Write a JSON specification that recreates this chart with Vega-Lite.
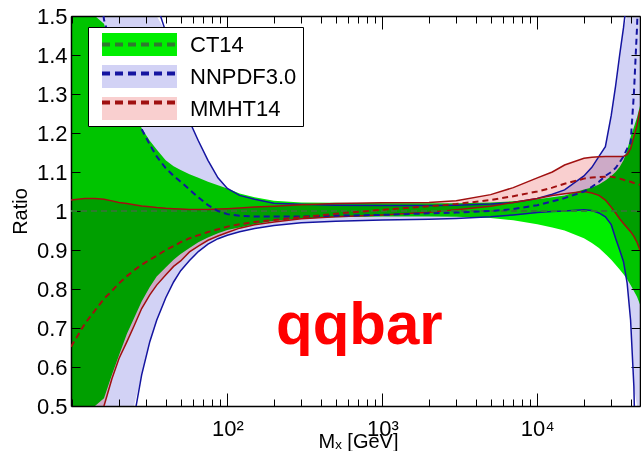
{
  "$schema": "https://vega.github.io/schema/vega-lite/v6.json",
  "width": 569,
  "height": 390,
  "autosize": {"type": "none"},
  "padding": {"left": 71, "top": 16, "right": 1, "bottom": 45},
  "background": "white",
  "config": {
    "view": {"stroke": null},
    "font": "Liberation Sans",
    "axis": {"grid": false, "domainColor": "black", "domainWidth": 1.5, "tickColor": "black", "tickWidth": 1, "labelColor": "black", "labelFont": "Liberation Sans", "labelFontSize": 22, "titleFont": "Liberation Sans", "titleFontWeight": "normal", "titleColor": "black"}
  },
  "datasets": {
    "bands": [
      {"s":"CT14","M":9.8,"lo":0.05,"hi":2.0,"c":1},
      {"s":"CT14","M":12,"lo":0.28,"hi":1.78,"c":1},
      {"s":"CT14","M":14,"lo":0.43,"hi":1.6,"c":1},
      {"s":"CT14","M":16,"lo":0.52,"hi":1.48,"c":1},
      {"s":"CT14","M":18,"lo":0.58,"hi":1.41,"c":1},
      {"s":"CT14","M":20,"lo":0.63,"hi":1.35,"c":1},
      {"s":"CT14","M":22.5,"lo":0.685,"hi":1.3,"c":1},
      {"s":"CT14","M":25,"lo":0.725,"hi":1.255,"c":1},
      {"s":"CT14","M":28,"lo":0.768,"hi":1.212,"c":1},
      {"s":"CT14","M":31.6,"lo":0.805,"hi":1.18,"c":1},
      {"s":"CT14","M":35,"lo":0.832,"hi":1.158,"c":1},
      {"s":"CT14","M":40,"lo":0.855,"hi":1.13,"c":1},
      {"s":"CT14","M":45,"lo":0.875,"hi":1.115,"c":1},
      {"s":"CT14","M":50,"lo":0.89,"hi":1.105,"c":1},
      {"s":"CT14","M":57,"lo":0.905,"hi":1.094,"c":1},
      {"s":"CT14","M":65,"lo":0.92,"hi":1.085,"c":1},
      {"s":"CT14","M":75,"lo":0.932,"hi":1.075,"c":1},
      {"s":"CT14","M":87,"lo":0.943,"hi":1.066,"c":1},
      {"s":"CT14","M":100,"lo":0.951,"hi":1.058,"c":1},
      {"s":"CT14","M":120,"lo":0.958,"hi":1.045,"c":1},
      {"s":"CT14","M":150,"lo":0.966,"hi":1.035,"c":1},
      {"s":"CT14","M":200,"lo":0.975,"hi":1.026,"c":1},
      {"s":"CT14","M":300,"lo":0.98,"hi":1.022,"c":1},
      {"s":"CT14","M":500,"lo":0.984,"hi":1.021,"c":1},
      {"s":"CT14","M":1000,"lo":0.986,"hi":1.02,"c":1},
      {"s":"CT14","M":2000,"lo":0.986,"hi":1.02,"c":1},
      {"s":"CT14","M":3000,"lo":0.985,"hi":1.02,"c":1},
      {"s":"CT14","M":5000,"lo":0.982,"hi":1.022,"c":1},
      {"s":"CT14","M":7000,"lo":0.976,"hi":1.025,"c":1},
      {"s":"CT14","M":10000,"lo":0.966,"hi":1.03,"c":1},
      {"s":"CT14","M":12500,"lo":0.958,"hi":1.035,"c":1},
      {"s":"CT14","M":15000,"lo":0.95,"hi":1.04,"c":1},
      {"s":"CT14","M":20000,"lo":0.93,"hi":1.055,"c":1},
      {"s":"CT14","M":22500,"lo":0.918,"hi":1.06,"c":1},
      {"s":"CT14","M":25000,"lo":0.905,"hi":1.068,"c":1},
      {"s":"CT14","M":27500,"lo":0.89,"hi":1.078,"c":1},
      {"s":"CT14","M":30000,"lo":0.875,"hi":1.09,"c":1},
      {"s":"CT14","M":32000,"lo":0.862,"hi":1.1,"c":1},
      {"s":"CT14","M":34000,"lo":0.85,"hi":1.113,"c":1},
      {"s":"CT14","M":36000,"lo":0.838,"hi":1.13,"c":1},
      {"s":"CT14","M":38000,"lo":0.825,"hi":1.155,"c":1},
      {"s":"CT14","M":40000,"lo":0.81,"hi":1.19,"c":1},
      {"s":"CT14","M":42000,"lo":0.795,"hi":1.215,"c":1},
      {"s":"CT14","M":44000,"lo":0.78,"hi":1.24,"c":1},
      {"s":"CT14","M":46000,"lo":0.76,"hi":1.27,"c":1},

      {"s":"NNPDF3.0","M":9.8,"lo":-1.2,"hi":3.6,"c":2.6},
      {"s":"NNPDF3.0","M":12,"lo":-0.6,"hi":3.0,"c":2.0},
      {"s":"NNPDF3.0","M":14,"lo":-0.2,"hi":2.65,"c":1.7},
      {"s":"NNPDF3.0","M":16,"lo":0.05,"hi":2.4,"c":1.49},
      {"s":"NNPDF3.0","M":18,"lo":0.18,"hi":2.2,"c":1.42},
      {"s":"NNPDF3.0","M":20,"lo":0.3,"hi":2.05,"c":1.36},
      {"s":"NNPDF3.0","M":22.5,"lo":0.39,"hi":1.9,"c":1.3},
      {"s":"NNPDF3.0","M":25,"lo":0.47,"hi":1.8,"c":1.255},
      {"s":"NNPDF3.0","M":28,"lo":0.58,"hi":1.7,"c":1.21},
      {"s":"NNPDF3.0","M":31.6,"lo":0.665,"hi":1.6,"c":1.17},
      {"s":"NNPDF3.0","M":35,"lo":0.72,"hi":1.53,"c":1.14},
      {"s":"NNPDF3.0","M":40,"lo":0.777,"hi":1.46,"c":1.11},
      {"s":"NNPDF3.0","M":45,"lo":0.818,"hi":1.38,"c":1.09},
      {"s":"NNPDF3.0","M":50,"lo":0.847,"hi":1.31,"c":1.075},
      {"s":"NNPDF3.0","M":57,"lo":0.873,"hi":1.23,"c":1.055},
      {"s":"NNPDF3.0","M":65,"lo":0.896,"hi":1.18,"c":1.035},
      {"s":"NNPDF3.0","M":75,"lo":0.915,"hi":1.13,"c":1.015},
      {"s":"NNPDF3.0","M":87,"lo":0.929,"hi":1.085,"c":1.0},
      {"s":"NNPDF3.0","M":100,"lo":0.938,"hi":1.058,"c":0.992},
      {"s":"NNPDF3.0","M":120,"lo":0.947,"hi":1.04,"c":0.988},
      {"s":"NNPDF3.0","M":150,"lo":0.955,"hi":1.03,"c":0.986},
      {"s":"NNPDF3.0","M":200,"lo":0.963,"hi":1.02,"c":0.986},
      {"s":"NNPDF3.0","M":300,"lo":0.97,"hi":1.017,"c":0.986},
      {"s":"NNPDF3.0","M":500,"lo":0.974,"hi":1.015,"c":0.988},
      {"s":"NNPDF3.0","M":1000,"lo":0.977,"hi":1.014,"c":0.99},
      {"s":"NNPDF3.0","M":2000,"lo":0.979,"hi":1.014,"c":0.994},
      {"s":"NNPDF3.0","M":3000,"lo":0.981,"hi":1.015,"c":0.996},
      {"s":"NNPDF3.0","M":5000,"lo":0.985,"hi":1.018,"c":1.0},
      {"s":"NNPDF3.0","M":7000,"lo":0.99,"hi":1.022,"c":1.005},
      {"s":"NNPDF3.0","M":10000,"lo":0.996,"hi":1.032,"c":1.015},
      {"s":"NNPDF3.0","M":12500,"lo":0.999,"hi":1.043,"c":1.025},
      {"s":"NNPDF3.0","M":15000,"lo":1.0,"hi":1.054,"c":1.033},
      {"s":"NNPDF3.0","M":20000,"lo":1.003,"hi":1.09,"c":1.05},
      {"s":"NNPDF3.0","M":22500,"lo":1.001,"hi":1.112,"c":1.062},
      {"s":"NNPDF3.0","M":25000,"lo":0.995,"hi":1.14,"c":1.075},
      {"s":"NNPDF3.0","M":27500,"lo":0.985,"hi":1.165,"c":1.09},
      {"s":"NNPDF3.0","M":30000,"lo":0.965,"hi":1.245,"c":1.1},
      {"s":"NNPDF3.0","M":32000,"lo":0.93,"hi":1.32,"c":1.11},
      {"s":"NNPDF3.0","M":34000,"lo":0.9,"hi":1.4,"c":1.125},
      {"s":"NNPDF3.0","M":36000,"lo":0.87,"hi":1.47,"c":1.14},
      {"s":"NNPDF3.0","M":38000,"lo":0.815,"hi":1.55,"c":1.16},
      {"s":"NNPDF3.0","M":40000,"lo":0.72,"hi":1.62,"c":1.175},
      {"s":"NNPDF3.0","M":42000,"lo":0.55,"hi":1.7,"c":1.3},
      {"s":"NNPDF3.0","M":44000,"lo":0.2,"hi":1.8,"c":1.47},
      {"s":"NNPDF3.0","M":46000,"lo":-0.3,"hi":1.9,"c":1.7},

      {"s":"MMHT14","M":9.8,"lo":0.14,"hi":1.028,"c":0.652},
      {"s":"MMHT14","M":12,"lo":0.3,"hi":1.032,"c":0.71},
      {"s":"MMHT14","M":14,"lo":0.42,"hi":1.032,"c":0.745},
      {"s":"MMHT14","M":16,"lo":0.5,"hi":1.03,"c":0.775},
      {"s":"MMHT14","M":18,"lo":0.57,"hi":1.026,"c":0.795},
      {"s":"MMHT14","M":20,"lo":0.622,"hi":1.022,"c":0.815},
      {"s":"MMHT14","M":22.5,"lo":0.665,"hi":1.019,"c":0.833},
      {"s":"MMHT14","M":25,"lo":0.705,"hi":1.016,"c":0.848},
      {"s":"MMHT14","M":28,"lo":0.75,"hi":1.013,"c":0.862},
      {"s":"MMHT14","M":31.6,"lo":0.785,"hi":1.011,"c":0.875},
      {"s":"MMHT14","M":35,"lo":0.81,"hi":1.009,"c":0.885},
      {"s":"MMHT14","M":40,"lo":0.836,"hi":1.007,"c":0.9},
      {"s":"MMHT14","M":45,"lo":0.858,"hi":1.006,"c":0.91},
      {"s":"MMHT14","M":50,"lo":0.872,"hi":1.005,"c":0.92},
      {"s":"MMHT14","M":57,"lo":0.895,"hi":1.004,"c":0.93},
      {"s":"MMHT14","M":65,"lo":0.91,"hi":1.004,"c":0.938},
      {"s":"MMHT14","M":75,"lo":0.925,"hi":1.004,"c":0.946},
      {"s":"MMHT14","M":87,"lo":0.936,"hi":1.005,"c":0.953},
      {"s":"MMHT14","M":100,"lo":0.945,"hi":1.006,"c":0.96},
      {"s":"MMHT14","M":120,"lo":0.956,"hi":1.008,"c":0.966},
      {"s":"MMHT14","M":150,"lo":0.965,"hi":1.01,"c":0.972},
      {"s":"MMHT14","M":200,"lo":0.972,"hi":1.012,"c":0.977},
      {"s":"MMHT14","M":300,"lo":0.98,"hi":1.016,"c":0.984},
      {"s":"MMHT14","M":500,"lo":0.985,"hi":1.019,"c":0.993},
      {"s":"MMHT14","M":1000,"lo":0.99,"hi":1.021,"c":1.003},
      {"s":"MMHT14","M":2000,"lo":0.997,"hi":1.022,"c":1.012},
      {"s":"MMHT14","M":3000,"lo":1.003,"hi":1.026,"c":1.018},
      {"s":"MMHT14","M":5000,"lo":1.012,"hi":1.042,"c":1.028},
      {"s":"MMHT14","M":7000,"lo":1.022,"hi":1.06,"c":1.038},
      {"s":"MMHT14","M":10000,"lo":1.032,"hi":1.085,"c":1.05},
      {"s":"MMHT14","M":12500,"lo":1.04,"hi":1.1,"c":1.06},
      {"s":"MMHT14","M":15000,"lo":1.044,"hi":1.118,"c":1.07},
      {"s":"MMHT14","M":20000,"lo":1.05,"hi":1.135,"c":1.083},
      {"s":"MMHT14","M":22500,"lo":1.046,"hi":1.138,"c":1.086},
      {"s":"MMHT14","M":25000,"lo":1.04,"hi":1.139,"c":1.087},
      {"s":"MMHT14","M":27500,"lo":1.028,"hi":1.14,"c":1.088},
      {"s":"MMHT14","M":30000,"lo":1.01,"hi":1.14,"c":1.088},
      {"s":"MMHT14","M":32000,"lo":0.995,"hi":1.14,"c":1.086},
      {"s":"MMHT14","M":34000,"lo":0.98,"hi":1.14,"c":1.083},
      {"s":"MMHT14","M":36000,"lo":0.968,"hi":1.14,"c":1.08},
      {"s":"MMHT14","M":38000,"lo":0.957,"hi":1.145,"c":1.077},
      {"s":"MMHT14","M":40000,"lo":0.947,"hi":1.16,"c":1.075},
      {"s":"MMHT14","M":42000,"lo":0.935,"hi":1.19,"c":1.072},
      {"s":"MMHT14","M":44000,"lo":0.92,"hi":1.22,"c":1.07},
      {"s":"MMHT14","M":46000,"lo":0.9,"hi":1.26,"c":1.067}
    ]
  },
  "data": {"name": "bands"},
  "resolve": {"axis": {"x": "independent", "y": "independent"}, "scale": {"y": "independent"}},
  "layer": [
    {
      "mark": {"type": "area", "opacity": 1, "blend": "multiply"},
      "encoding": {
        "x": {"field": "M", "type": "quantitative",
          "scale": {"type": "log", "domain": [9.8, 46000], "nice": false},
          "axis": {"orient": "bottom",
            "values": [10,20,30,40,50,60,70,80,90,100,200,300,400,500,600,700,800,900,1000,2000,3000,4000,5000,6000,7000,8000,9000,10000,20000,30000,40000],
            "labelExpr": "datum.value == 100 ? '10²' : datum.value == 1000 ? '10³' : datum.value == 10000 ? '10⁴' : ''",
            "tickSize": {"condition": {"test": "datum.value == 100 || datum.value == 1000 || datum.value == 10000", "value": -13}, "value": -7},
            "labelPadding": 25, "labelFlush": false, "labelOverlap": false,
            "title": "Mₓ [GeV]", "titleFontSize": 20, "titleX": 287, "titleY": 41, "titleBaseline": "alphabetic", "titleAlign": "center"}},
        "y": {"field": "lo", "type": "quantitative",
          "scale": {"domain": [0.5, 1.5], "nice": false, "zero": false, "clamp": true},
          "axis": {"orient": "left", "values": [0.5,0.6,0.7,0.8,0.9,1,1.1,1.2,1.3,1.4,1.5],
            "format": "~g", "tickSize": -9, "labelPadding": 13,
            "title": "Ratio", "titleFontSize": 20, "titleX": -51, "titleY": 195, "titleAngle": -90, "titleAlign": "center", "titleBaseline": "middle"}},
        "y2": {"field": "hi"},
        "fill": {"field": "s", "type": "nominal",
          "scale": {"domain": ["CT14", "NNPDF3.0", "MMHT14"], "range": ["#00ee00", "#d2d2f5", "#f9cfcf"]},
          "legend": {"title": null, "orient": "none", "legendX": 17, "legendY": 11, "padding": 6,
            "fillColor": "white", "strokeColor": "black",
            "symbolType": "M-3.26,-1H3.26V1H-3.26Z", "symbolSize": 529, "symbolStrokeWidth": 0,
            "symbolOffset": 34, "labelOffset": 39, "labelFontSize": 22, "labelFont": "Liberation Sans", "labelColor": "black",
            "rowPadding": 9, "zindex": 1,
            "encode": {"legend": {"update": {"strokeWidth": {"value": 2}}}}}}
      }
    },
    {
      "transform": [{"filter": "datum.s != 'CT14'"}],
      "mark": {"type": "line", "clip": true, "strokeWidth": 1.5},
      "encoding": {
        "x": {"field": "M", "type": "quantitative",
          "axis": {"orient": "top",
            "values": [10,20,30,40,50,60,70,80,90,100,200,300,400,500,600,700,800,900,1000,2000,3000,4000,5000,6000,7000,8000,9000,10000,20000,30000,40000],
            "labels": false, "title": null,
            "tickSize": {"condition": {"test": "datum.value == 100 || datum.value == 1000 || datum.value == 10000", "value": -13}, "value": -7}}},
        "y": {"field": "hi", "type": "quantitative",
          "scale": {"domain": [0.5, 1.5], "nice": false, "zero": false},
          "axis": {"orient": "right", "values": [0.5,0.6,0.7,0.8,0.9,1,1.1,1.2,1.3,1.4,1.5], "labels": false, "title": null, "tickSize": -9}},
        "stroke": {"field": "s", "type": "nominal",
          "scale": {"domain": ["CT14", "NNPDF3.0", "MMHT14"], "range": ["#2f7a2f", "#1414a0", "#a01010"]}}
      }
    },
    {
      "transform": [{"filter": "datum.s != 'CT14'"}],
      "mark": {"type": "line", "clip": true, "strokeWidth": 1.5},
      "encoding": {
        "x": {"field": "M", "type": "quantitative", "axis": null},
        "y": {"field": "lo", "type": "quantitative", "scale": {"domain": [0.5, 1.5], "nice": false, "zero": false}, "axis": null},
        "stroke": {"field": "s", "type": "nominal",
          "scale": {"domain": ["CT14", "NNPDF3.0", "MMHT14"], "range": ["#2f7a2f", "#1414a0", "#a01010"]}}
      }
    },
    {
      "mark": {"type": "line", "clip": true, "strokeWidth": 2, "strokeDash": [6, 4]},
      "encoding": {
        "x": {"field": "M", "type": "quantitative", "axis": null},
        "y": {"field": "c", "type": "quantitative", "scale": {"domain": [0.5, 1.5], "nice": false, "zero": false}, "axis": null},
        "stroke": {"field": "s", "type": "nominal",
          "scale": {"domain": ["CT14", "NNPDF3.0", "MMHT14"], "range": ["#2f7a2f", "#1414a0", "#a01010"]},
          "legend": {"title": null, "orient": "top-left", "offset": 15, "padding": 0,
            "symbolType": "M-3.26,0H3.26", "symbolSize": 529, "symbolStrokeWidth": 4, "symbolDash": [8, 5],
            "symbolOffset": 40, "labelExpr": "''", "labelFontSize": 22,
            "rowPadding": 4, "zindex": 2}}
      }
    },
    {
      "data": {"values": [{"t": "qqbar", "M": 711, "r": 0.659}]},
      "mark": {"type": "text", "font": "Liberation Sans", "fontSize": 60, "fontWeight": "bold", "color": "#ff0000", "align": "center", "baseline": "alphabetic"},
      "encoding": {
        "x": {"field": "M", "type": "quantitative", "axis": null},
        "y": {"field": "r", "type": "quantitative", "scale": {"domain": [0.5, 1.5], "nice": false, "zero": false}, "axis": null},
        "text": {"field": "t"}
      }
    }
  ]
}
